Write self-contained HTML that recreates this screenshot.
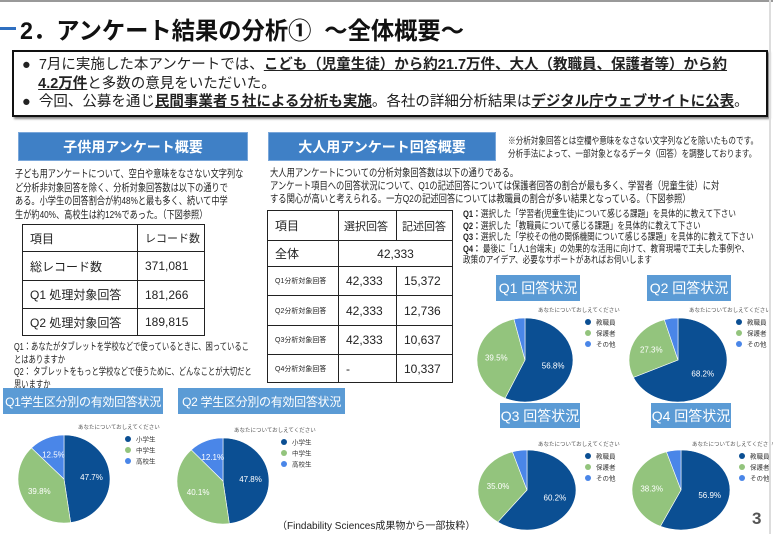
<!DOCTYPE html>
<html><head><meta charset="utf-8">
<style>
*{margin:0;padding:0;box-sizing:border-box}
body{width:773px;height:534px;background:#fff;position:relative;overflow:hidden;font-family:"Liberation Sans","Noto Sans CJK JP",sans-serif;color:#222}
.a{position:absolute;white-space:nowrap}
.sx{transform-origin:left top}
.hd{position:absolute;background:#3f80c6;color:#fff;font-weight:bold;font-size:14px;text-align:center;display:flex;align-items:center;justify-content:center;border:1px solid #7aa7da;white-space:nowrap}
.qb{position:absolute;background:#5b9bd5;color:#fff;font-size:14px;display:flex;align-items:center;justify-content:center;white-space:nowrap;overflow:hidden}
table{position:absolute;border-collapse:collapse;table-layout:fixed}
td{border:1.5px solid #222;font-size:12px;padding-left:7px;white-space:nowrap;overflow:hidden}
.sm{font-size:7px}
u{text-decoration:underline;font-weight:bold}
</style></head><body>
<div class="a" style="left:0;top:0;width:773px;height:2px;background:#999"></div>
<div class="a" style="left:0;top:27px;width:16px;height:3px;background:#2f6fc0"></div>
<div class="a sx" style="left:20px;top:11px;font-size:24px;font-weight:bold;color:#111;transform:scaleX(.97)">2．アンケート結果の分析①&nbsp;&nbsp;～全体概要～</div>
<div class="a" style="left:12px;top:50px;width:756px;height:67px;border:2px solid #111;box-shadow:2px 2px 2px #888"></div>
<div class="a" style="left:22px;top:56px;font-size:14.5px;line-height:18.5px">●&nbsp;&nbsp;7月に実施した本アンケートでは、<u>こども（児童生徒）から約21.7万件、大人（教職員、保護者等）から約</u><br>&nbsp;&nbsp;&nbsp;&nbsp;<u>4.2万件</u>と多数の意見をいただいた。<br>●&nbsp;&nbsp;今回、公募を通じ<u>民間事業者５社による分析も実施</u>。各社の詳細分析結果は<u>デジタル庁ウェブサイトに公表</u>。</div>

<div class="hd" style="left:18px;top:132px;width:230px;height:29px">子供用アンケート概要</div>
<div class="a sx" style="left:15px;top:168px;font-size:10.5px;line-height:13.5px;transform:scaleX(.78)">子ども用アンケートについて、空白や意味をなさない文字列な<br>ど分析非対象回答を除く、分析対象回答数は以下の通りで<br>ある。小学生の回答割合が約48%と最も多く、続いて中学<br>生が約40%、高校生は約12%であった。（下図参照）</div>
<table style="left:22px;top:224px;width:183px">
<tr style="height:27px"><td style="width:115px">項目</td><td style="font-size:11px">レコード数</td></tr>
<tr style="height:29px"><td>総レコード数</td><td>371,081</td></tr>
<tr style="height:28px"><td>Q1 処理対象回答</td><td>181,266</td></tr>
<tr style="height:27px"><td>Q2 処理対象回答</td><td>189,815</td></tr>
</table>
<div class="a sx" style="left:14px;top:342px;font-size:10px;line-height:12.5px;transform:scaleX(.73)">Q1：あなたがタブレットを学校などで使っているときに、困っているこ<br>とはありますか<br>Q2： タブレットをもっと学校などで使うために、どんなことが大切だと<br>思いますか</div>

<div class="hd" style="left:268px;top:132px;width:228px;height:29px">大人用アンケート回答概要</div>
<div class="a sx" style="left:508px;top:136px;font-size:9.5px;line-height:12.5px;transform:scaleX(.8)">※分析対象回答とは空欄や意味をなさない文字列などを除いたものです。<br>分析手法によって、一部対象となるデータ（回答）を調整しております。</div>
<div class="a sx" style="left:270px;top:167px;font-size:10.5px;line-height:13px;transform:scaleX(.79)">大人用アンケートについての分析対象回答数は以下の通りである。<br>アンケート項目への回答状況について、Q1の記述回答については保護者回答の割合が最も多く、学習者（児童生徒）に対<br>する関心が高いと考えられる。一方Q2の記述回答については教職員の割合が多い結果となっている。（下図参照）</div>
<table style="left:267px;top:210px;width:186px">
<tr style="height:30px"><td style="width:71px">項目</td><td style="width:58px;font-size:11px;padding-left:5px">選択回答</td><td style="font-size:11px;padding-left:5px">記述回答</td></tr>
<tr style="height:26px"><td>全体</td><td colspan="2" style="text-align:center;padding:0">42,333</td></tr>
<tr style="height:29px"><td class="sm">Q1分析対象回答</td><td>42,333</td><td>15,372</td></tr>
<tr style="height:30px"><td class="sm">Q2分析対象回答</td><td>42,333</td><td>12,736</td></tr>
<tr style="height:29px"><td class="sm">Q3分析対象回答</td><td>42,333</td><td>10,637</td></tr>
<tr style="height:28px"><td class="sm">Q4分析対象回答</td><td>-</td><td>10,337</td></tr>
</table>
<div class="a sx" style="left:463px;top:209px;font-size:9.5px;line-height:11.5px;transform:scaleX(.8)"><b>Q1：</b>選択した「学習者(児童生徒)について感じる課題」を具体的に教えて下さい<br><b>Q2：</b>選択した「教職員について感じる課題」を具体的に教えて下さい<br><b>Q3：</b>選択した「学校その他の関係機関について感じる課題」を具体的に教えて下さい<br><b>Q4：</b> 最後に「1人1台端末」の効果的な活用に向けて、教育現場で工夫した事例や、<br>政策のアイデア、必要なサポートがあればお伺いします</div>

<div class="qb" style="left:496px;top:275px;width:84px;height:26px">Q1 回答状況</div>
<div class="qb" style="left:647px;top:275px;width:84px;height:26px">Q2 回答状況</div>
<div class="qb" style="left:500px;top:403px;width:80px;height:25px">Q3 回答状況</div>
<div class="qb" style="left:651px;top:403px;width:80px;height:25px">Q4 回答状況</div>
<div class="qb" style="left:3px;top:388px;width:160px;height:26px;font-size:12px;letter-spacing:-0.3px">Q1学生区分別の有効回答状況</div>
<div class="qb" style="left:178px;top:388px;width:167px;height:26px;font-size:12px;letter-spacing:-0.3px">Q2 学生区分別の有効回答状況</div>

<svg class="a" id="s" style="left:0;top:0" width="773" height="534" font-family="Liberation Sans, Noto Sans CJK JP, sans-serif"></svg>

<div class="a" style="left:277px;top:517px;font-size:10px">（Findability Sciences成果物から一部抜粋）</div>
<div class="a" style="left:752px;top:509px;font-size:17px;font-weight:bold;color:#555">3</div>
<div class="a" style="left:769px;top:0;width:2px;height:534px;background:#ddd"></div>
<script>
var s=document.getElementById('s'),h='';
var C=['#0b4f93','#93c47d','#4a86e8'];
function pie(cx,cy,rx,ry,v,lx,ly,names){
 var a=0;
 v.forEach(function(p,i){
  var a1=a+p/100*2*Math.PI;
  var x0=cx+rx*Math.sin(a),y0=cy-ry*Math.cos(a),x1=cx+rx*Math.sin(a1),y1=cy-ry*Math.cos(a1);
  h+='<path d="M'+cx+','+cy+'L'+x0+','+y0+'A'+rx+','+ry+' 0 '+((a1-a)>Math.PI?1:0)+' 1 '+x1+','+y1+'Z" fill="'+C[i]+'" stroke="#fff" stroke-width="0.6"/>';
  if(p>8){var m=(a+a1)/2;h+='<text x="'+(cx+rx*0.6*Math.sin(m))+'" y="'+(cy-ry*0.6*Math.cos(m)+3)+'" font-size="8" fill="#fff" text-anchor="middle">'+p.toFixed(1)+'%</text>';}
  a=a1;
 });
 h+='<text x="'+(lx-50)+'" y="'+ly+'" font-size="5.5" fill="#555">あなたについておしえてください</text>';
 names.forEach(function(n,i){h+='<circle cx="'+lx+'" cy="'+(ly+10+i*11)+'" r="3" fill="'+C[i]+'"/><text x="'+(lx+8)+'" y="'+(ly+12.5+i*11)+'" font-size="6.5" fill="#333">'+n+'</text>';});
}
var A=['教職員','保護者','その他'],S=['小学生','中学生','高校生'];
pie(525,360,48,42,[56.8,39.5,3.7],588,312,A);
pie(678,360,49,42,[68.2,27.3,4.5],739,312,A);
pie(527,490,49,40,[60.2,35.0,4.8],588,446,A);
pie(681,490,49,40,[56.9,38.3,4.8],742,446,A);
pie(64,479,46,44,[47.7,39.8,12.5],128,429,S);
pie(223,481,46,43,[47.8,40.1,12.1],284,432,S);
s.innerHTML=h;
</script>
</body></html>
